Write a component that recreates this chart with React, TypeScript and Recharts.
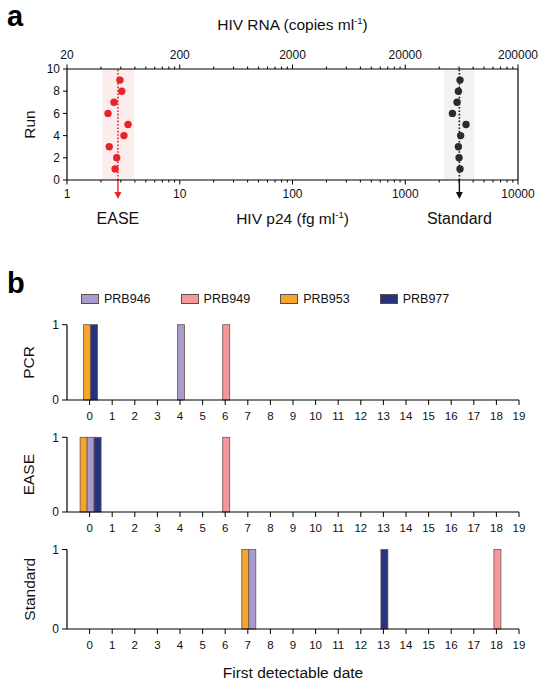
import React from "react";
import {
  ScatterChart,
  Scatter,
  XAxis,
  YAxis,
  ReferenceArea,
  ReferenceLine,
  BarChart,
  Bar,
} from "recharts";

// panel a: HIV p24 (fg/ml) measured per run
const runs = [1, 2, 3, 4, 5, 6, 7, 8, 9];
const easeP24 = [2.67, 2.76, 2.37, 3.2, 3.48, 2.31, 2.61, 3.06, 2.95];
const standardP24 = [3060, 3000, 2960, 3100, 3460, 2620, 2880, 2960, 3060];
const easeMean = 2.83;
const easeBand = [2.07, 3.93];
const standardMean = 3020;
const standardBand = [2210, 4100];
const p24Decades = [1, 10, 100, 1000, 10000];
const rnaPerP24 = 20;
const runTicks = [0, 2, 4, 6, 8, 10];

// panel b: first detectable date per sample and method
const days = [0, 1, 2, 3, 4, 5, 6, 7, 8, 9, 10, 11, 12, 13, 14, 15, 16, 17, 18, 19];
const samples = ["PRB946", "PRB949", "PRB953", "PRB977"];
const sampleColors = ["#A99BCB", "#F4989C", "#F6A52C", "#26347F"];
const pcrFirstDay = [4, 6, 0, 0];
const easeFirstDay = [0, 6, 0, 0];
const standardFirstDay = [7, 18, 7, 13];
// order bars appear side by side within one day
const barOrder = ["PRB953", "PRB946", "PRB949", "PRB977"];

const FONT = "'Liberation Sans', Arial, Helvetica, sans-serif";
const RED = "#E4262C";
const DARK = "#2B2B2B";

const minorTicks = p24Decades
  .slice(0, -1)
  .flatMap((d) => [1, 2, 3, 4, 5, 6, 7, 8, 9].map((m) => m * d))
  .concat(p24Decades[p24Decades.length - 1]);

const isMajor = (v: number) => p24Decades.includes(v);

function LogTick({ x, y, payload, top, fmt }: any) {
  const v = payload.value;
  const major = isMajor(v);
  const dir = top ? -1 : 1;
  return (
    <g>
      <line x1={x} x2={x} y1={y} y2={y + dir * (major ? 4.5 : 2.5)} stroke="#000" strokeWidth={1} />
      {major && (
        <text
          x={x}
          y={y + dir * 14}
          textAnchor="middle"
          dominantBaseline="central"
          fontSize={12}
          fontFamily={FONT}
          fill="#111"
        >
          {fmt(v)}
        </text>
      )}
    </g>
  );
}

function AxisTitle({ viewBox, text, sup, after, dy }: any) {
  const vb = viewBox || {};
  return (
    <text
      x={vb.x + vb.width / 2}
      y={vb.y + dy}
      textAnchor="middle"
      fontSize={15.5}
      fontFamily={FONT}
      fill="#111"
    >
      {text}
      <tspan dy={-6} fontSize={9.5}>{sup}</tspan>
      <tspan dy={6}>{after}</tspan>
    </text>
  );
}

function SideTitle({ viewBox, text, cx }: any) {
  const vb = viewBox || {};
  const cy = vb.y + vb.height / 2;
  return (
    <text
      x={cx}
      y={cy}
      transform={`rotate(-90 ${cx} ${cy})`}
      textAnchor="middle"
      dominantBaseline="central"
      fontSize={15.5}
      fontFamily={FONT}
      fill="#111"
    >
      {text}
    </text>
  );
}

function ArrowLabel({ viewBox, text, color }: any) {
  const vb = viewBox || {};
  const x = vb.x;
  const y0 = vb.y + vb.height;
  return (
    <g>
      <line x1={x} x2={x} y1={y0} y2={y0 + 15} stroke={color} strokeWidth={1.4} />
      <path d={`M${x - 3.5},${y0 + 12} L${x},${y0 + 19} L${x + 3.5},${y0 + 12} Z`} fill={color} />
      <text
        x={x}
        y={y0 + 38}
        textAnchor="middle"
        dominantBaseline="central"
        fontSize={16}
        fontFamily={FONT}
        fill="#111"
      >
        {text}
      </text>
    </g>
  );
}

function PanelA() {
  const easeData = runs.map((r, i) => ({ x: easeP24[i], y: r }));
  const standardData = runs.map((r, i) => ({ x: standardP24[i], y: r }));
  return (
    <ScatterChart width={550} height={240} margin={{ top: 0, right: 32, bottom: 0, left: 0 }}>
      <XAxis
        xAxisId="top"
        orientation="top"
        dataKey="x"
        type="number"
        scale="log"
        domain={[1, 10000]}
        allowDataOverflow
        ticks={minorTicks}
        interval={0}
        height={69}
        tickSize={0}
        tickMargin={0}
        tickLine={false}
        axisLine={{ stroke: "#000", strokeWidth: 1.2 }}
        tick={<LogTick top fmt={(v: number) => String(Math.round(v * rnaPerP24))} />}
        label={<AxisTitle text="HIV RNA (copies ml" sup="-1" after=")" dy={30} />}
      />
      <XAxis
        dataKey="x"
        type="number"
        scale="log"
        domain={[1, 10000]}
        allowDataOverflow
        ticks={minorTicks}
        interval={0}
        height={60}
        tickSize={0}
        tickMargin={0}
        tickLine={false}
        axisLine={{ stroke: "#000", strokeWidth: 1.2 }}
        tick={<LogTick fmt={(v: number) => String(v)} />}
        label={<AxisTitle text="HIV p24 (fg ml" sup="-1" after=")" dy={44} />}
      />
      <YAxis
        dataKey="y"
        type="number"
        domain={[0, 10]}
        ticks={runTicks}
        interval={0}
        width={67}
        tickSize={4}
        tickMargin={3}
        axisLine={{ stroke: "#000", strokeWidth: 1.2 }}
        tickLine={{ stroke: "#000" }}
        tick={{ fontSize: 12, fill: "#111", fontFamily: FONT }}
        label={<SideTitle text="Run" cx={29} />}
      />
      <ReferenceArea x1={easeBand[0]} x2={easeBand[1]} y1={0} y2={10} fill="#FDECEC" fillOpacity={1} stroke="none" />
      <ReferenceArea x1={standardBand[0]} x2={standardBand[1]} y1={0} y2={10} fill="#F2F2F2" fillOpacity={1} stroke="none" />
      <ReferenceLine
        x={easeMean}
        stroke={RED}
        strokeWidth={1.6}
        strokeDasharray="1.6 1.8"
        label={<ArrowLabel text="EASE" color={RED} />}
      />
      <ReferenceLine
        x={standardMean}
        stroke="#111"
        strokeWidth={1.6}
        strokeDasharray="1.6 1.8"
        label={<ArrowLabel text="Standard" color="#111" />}
      />
      <ReferenceLine x={10000} stroke="#000" strokeWidth={1.2} />
      {/* same values in RNA units, only to give the top axis a series */}
      <Scatter
        xAxisId="top"
        data={standardData}
        isAnimationActive={false}
        shape={() => <g />}
      />
      <Scatter
        data={easeData}
        isAnimationActive={false}
        shape={(p: any) => <circle cx={p.cx} cy={p.cy} r={3.7} fill={RED} />}
      />
      <Scatter
        data={standardData}
        isAnimationActive={false}
        shape={(p: any) => <circle cx={p.cx} cy={p.cy} r={3.7} fill={DARK} />}
      />
    </ScatterChart>
  );
}

function makeRows(firstDay: number[]) {
  return days.map((d) => {
    const row: any = { day: d };
    samples.forEach((s, i) => {
      row[s] = firstDay[i] === d ? 1 : 0;
    });
    return row;
  });
}

const barShape = (key: string, color: string) => (props: any) => {
  const { x, y, width, height, payload } = props;
  if (!payload || !payload[key] || !height) return null;
  const present = barOrder.filter((s) => payload[s]);
  const idx = present.indexOf(key);
  const cx = x + width / 2 + 0.8 + (idx - (present.length - 1) / 2) * width;
  return (
    <rect x={cx - width / 2} y={y} width={width} height={height} fill={color} stroke="#6A5448" strokeWidth={0.8} />
  );
};

function DayPanel({ title, firstDay, top, height, marginTop, axisHeight, xTitle }: any) {
  const rows = makeRows(firstDay);
  return (
    <div style={{ position: "absolute", left: 0, top }}>
      <BarChart
        width={550}
        height={height}
        data={rows}
        margin={{ top: marginTop, right: 31, bottom: 0, left: 0 }}
        barSize={7}
        barGap={0}
      >
        <XAxis
          dataKey="day"
          type="number"
          domain={[-1, 19]}
          allowDataOverflow
          ticks={days}
          interval={0}
          height={axisHeight}
          tickSize={5}
          tickMargin={7}
          axisLine={{ stroke: "#000", strokeWidth: 1.2 }}
          tickLine={{ stroke: "#000" }}
          tick={{ fontSize: 11.5, fill: "#111", fontFamily: FONT }}
          label={xTitle ? <AxisTitle text={xTitle} sup="" after="" dy={49} /> : undefined}
        />
        {/* one hidden axis per sample so each series sits alone in its band */}
        {barOrder.map((key) => (
          <XAxis
            key={key}
            xAxisId={key}
            dataKey="day"
            type="number"
            domain={[-1, 19]}
            allowDataOverflow
            ticks={days}
            interval={0}
            hide
          />
        ))}
        <YAxis
          type="number"
          domain={[0, 1]}
          ticks={[0, 1]}
          interval={0}
          width={67}
          tickSize={5}
          tickMargin={3}
          axisLine={{ stroke: "#000", strokeWidth: 1.2 }}
          tickLine={{ stroke: "#000" }}
          tick={{ fontSize: 12, fill: "#111", fontFamily: FONT }}
          label={<SideTitle text={title} cx={29} />}
        />
        {barOrder.map((key) => {
          const color = sampleColors[samples.indexOf(key)];
          return (
            <Bar
              key={key}
              xAxisId={key}
              dataKey={key}
              fill={color}
              isAnimationActive={false}
              shape={barShape(key, color)}
            />
          );
        })}
      </BarChart>
    </div>
  );
}

function LegendRow() {
  return (
    <div
      style={{
        position: "absolute",
        left: 81,
        top: 290,
        display: "flex",
        gap: 30,
        fontFamily: FONT,
        fontSize: 12.5,
        color: "#111",
        lineHeight: "18px",
      }}
    >
      {samples.map((s, i) => (
        <div key={s} style={{ display: "flex", alignItems: "center", gap: 5 }}>
          <span
            style={{
              display: "inline-block",
              width: 16,
              height: 8,
              background: sampleColors[i],
              border: "1px solid #5E4E46",
            }}
          />
          <span>{s}</span>
        </div>
      ))}
    </div>
  );
}

const panelLetter: React.CSSProperties = {
  position: "absolute",
  left: 7,
  fontFamily: FONT,
  fontWeight: 700,
  fontSize: 29,
  lineHeight: "32px",
};

export default function App() {
  return (
    <div style={{ position: "absolute", left: 0, top: 0, width: 550, height: 687, background: "#fff", overflow: "hidden" }}>
      <div style={{ position: "absolute", left: 0, top: 0 }}>
        <PanelA />
      </div>
      <div style={{ ...panelLetter, top: 0 }}>a</div>
      <div style={{ ...panelLetter, top: 267 }}>b</div>
      <LegendRow />
      <DayPanel title="PCR" firstDay={pcrFirstDay} top={310} height={120} marginTop={14.7} axisHeight={30} />
      <DayPanel title="EASE" firstDay={easeFirstDay} top={423} height={119} marginTop={14.3} axisHeight={30} />
      <DayPanel
        title="Standard"
        firstDay={standardFirstDay}
        top={536}
        height={148}
        marginTop={13.5}
        axisHeight={55}
        xTitle="First detectable date"
      />
    </div>
  );
}
